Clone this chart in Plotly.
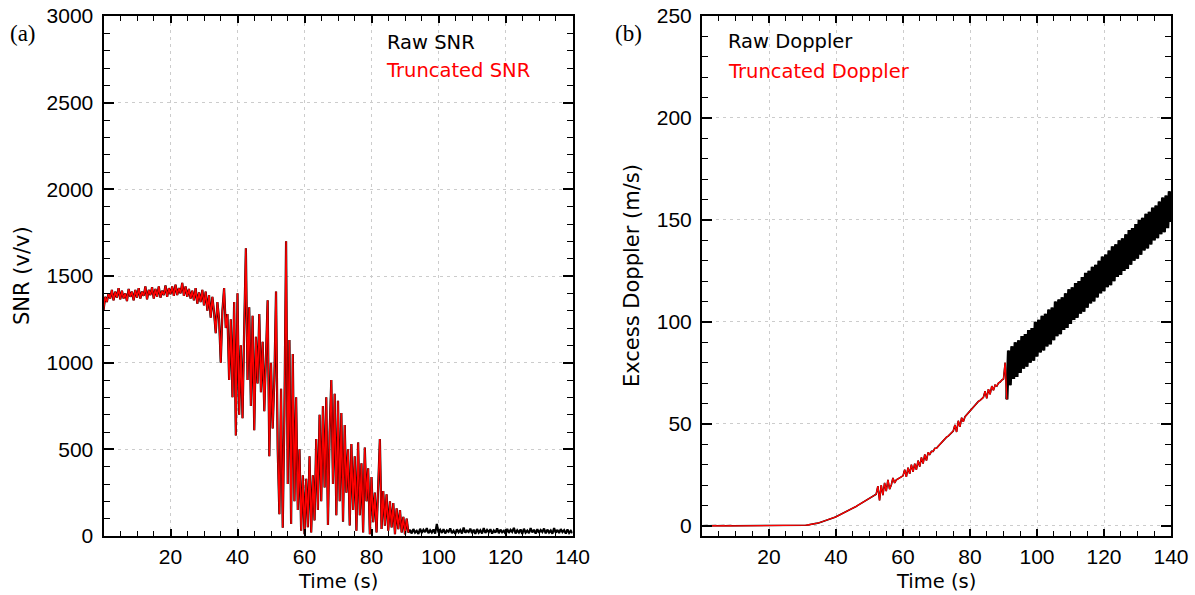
import numpy as np
import plotly.graph_objects as go

DT = 0.5  # sampling step of the values (s)

# ---- Panel (a): SNR (v/v), truncated part 0..91 s ----
snr_trunc = [
    1300, 1380, 1350, 1400, 1370, 1420, 1360, 1410, 1375, 1430,
    1365, 1415, 1370, 1400, 1355, 1425, 1380, 1410, 1360, 1420,
    1375, 1430, 1370, 1410, 1385, 1440, 1365, 1420, 1390, 1435,
    1370, 1425, 1380, 1440, 1375, 1415, 1390, 1445, 1380, 1430,
    1395, 1440, 1385, 1450, 1390, 1430, 1400, 1460, 1385, 1440,
    1380, 1425, 1370, 1415, 1360, 1430, 1340, 1405, 1350, 1420,
    1330, 1410, 1300, 1390, 1260, 1380, 1290, 1170, 1350, 1250,
    1000, 1300, 1430, 1200, 1280, 900, 1250, 800, 1350, 580,
    1400, 700, 1100, 680, 1200, 1660, 900, 1320, 750, 1270,
    610, 1150, 880, 1280, 830, 1120, 720, 1050, 1360, 460,
    1000, 620, 900, 1410, 500, 125, 850, 48, 700, 1700,
    300, 1130, 70, 1050, 200, 800, 150, 500, 30, 350,
    10, 330, 50, 460, 20, 350, 90, 560, 150, 700,
    200, 750, 280, 800, 63, 600, 900, 300, 820, 120,
    780, 200, 710, 83, 640, 250, 500, 60, 530, 150,
    460, 30, 540, 120, 420, 20, 510, 200, 390, 10,
    340, 80, 250, 20, 330, 560, 40, 260, 60, 240,
    30, 200, 50, 190, 10, 160, 40, 150, 20, 110, 10, 100, 20,
]
# raw SNR after truncation (91.5..140 s)
snr_raw_tail = [
    35, 15, 40, 20, 30, 12, 42, 18, 36, 22,
    45, 16, 33, 20, 38, 14, 70, 20, 35, 18,
    40, 15, 32, 24, 44, 17, 30, 13, 38, 21,
    34, 15, 48, 19, 31, 23, 42, 16, 36, 12,
    40, 20, 33, 15, 46, 18, 35, 22, 39, 14,
    32, 19, 44, 16, 37, 21, 30, 13, 41, 18,
    35, 24, 47, 15, 33, 20, 38, 12, 42, 19,
    31, 16, 45, 21, 36, 14, 40, 18, 34, 23,
    43, 15, 37, 20, 32, 13, 46, 19, 35, 17,
    40, 22, 33, 14, 38, 18, 30, 16,
]

# ---- Panel (b): Excess Doppler (m/s), truncated part 0..91 s ----
dop_trunc = [
    0.0, 0.1, 0.0, 0.1, 0.0, 0.1, 0.0, 0.0, 0.1, 0.0,
    0.1, 0.0, 0.0, 0.1, 0.0, 0.1, 0.0, 0.1, 0.0, 0.0,
    0.1, 0.0, 0.1, 0.0, 0.1, 0.0, 0.0, 0.1, 0.0, 0.1,
    0.0, 0.1, 0.0, 0.1, 0.0, 0.1, 0.1, 0.0, 0.1, 0.1,
    0.1, 0.0, 0.1, 0.1, 0.1, 0.0, 0.1, 0.1, 0.1, 0.1,
    0.1, 0.1, 0.1, 0.1, 0.2, 0.1, 0.2, 0.2, 0.2, 0.2,
    0.2, 0.25, 0.3, 0.4, 0.5, 0.6, 0.75, 0.9, 1.1, 1.3,
    1.5, 1.75, 2.0, 2.3, 2.6, 2.9, 3.2, 3.5, 3.8, 4.1,
    4.4, 4.8, 5.2, 5.6, 6.0, 6.4, 6.8, 7.3, 7.7, 8.1,
    8.6, 9.1, 9.5, 10.0, 10.5, 11.0, 11.5, 12.0, 12.5, 13.0,
    13.5, 14.0, 14.5, 15.0, 15.5,
    19.5, 12.5, 20, 15, 21, 17, 22.5, 18, 20, 23.5,
    21, 22.5, 23, 23.5, 24, 24.5, 27.5, 24, 28.5, 25.5,
    30, 26.5, 30.5, 27.5, 32, 29, 33.5, 30.5, 35, 32,
    36, 35, 36.5, 36.5, 38, 38, 39, 40, 40.5, 41.5,
    42.5, 43.5, 44, 45, 45.5, 46.5, 49.5, 46, 51.5, 48.5,
    53, 51, 53.5, 54.5, 55.5, 56.5, 57.5, 58.5, 59, 60,
    61, 61.5, 62.5, 63, 66, 62.5, 67, 64.5, 68.5, 66.5,
    69, 68.5, 70, 70.5, 71.5, 72, 80, 62,
]
# raw Doppler after truncation (91.5..140 s)
dop_raw_tail = [
    86, 69, 88, 72, 90, 73, 91, 75, 93, 77,
    94, 78, 96, 80, 97, 81, 100, 83, 101, 85,
    103, 86, 104, 88, 106, 89, 107, 91, 110, 93,
    111, 94, 112, 96, 114, 97, 116, 99, 117, 101,
    119, 102, 120, 104, 122, 105, 124, 107, 125, 109,
    127, 110, 128, 112, 130, 114, 132, 115, 133, 117,
    135, 118, 137, 120, 138, 122, 140, 123, 141, 125,
    143, 126, 145, 128, 146, 130, 148, 131, 150, 133,
    151, 135, 153, 136, 154, 138, 156, 140, 157, 141,
    159, 143, 161, 144, 162, 146, 164, 149,
]

x_ticks = [20, 40, 60, 80, 100, 120, 140]
snr_ticks = [0, 500, 1000, 1500, 2000, 2500, 3000]
dop_ticks = [0, 50, 100, 150, 200, 250]

# time axes (regular sampling)
t_trunc_snr = np.arange(len(snr_trunc)) * DT
t_tail_snr = t_trunc_snr[-1] + DT + np.arange(len(snr_raw_tail)) * DT
t_trunc_dop = np.arange(len(dop_trunc)) * DT
t_tail_dop = t_trunc_dop[-1] + DT + np.arange(len(dop_raw_tail)) * DT

snr_raw = snr_trunc + snr_raw_tail
dop_raw = dop_trunc + dop_raw_tail
t_raw_snr = np.concatenate([t_trunc_snr, t_tail_snr])
t_raw_dop = np.concatenate([t_trunc_dop, t_tail_dop])

W, H = 1195, 595
TICKFONT = "Liberation Sans"
TXTFONT = "DejaVu Sans"
fig = go.Figure()

fig.add_trace(go.Scatter(x=t_raw_snr, y=snr_raw, mode="lines",
                         line=dict(color="black", width=2.2), xaxis="x", yaxis="y"))
fig.add_trace(go.Scatter(x=t_trunc_snr, y=snr_trunc, mode="lines",
                         line=dict(color="#ff0000", width=1.5), xaxis="x", yaxis="y"))
fig.add_trace(go.Scatter(x=t_raw_dop, y=dop_raw, mode="lines",
                         line=dict(color="black", width=1.6), xaxis="x2", yaxis="y2"))
# after truncation only the raw series remains: a dense band
fig.add_trace(go.Scatter(x=np.concatenate([[t_trunc_dop[-1]], t_tail_dop]),
                         y=[dop_trunc[-1]] + dop_raw_tail, mode="lines",
                         line=dict(color="black", width=3.2), xaxis="x2", yaxis="y2"))
fig.add_trace(go.Scatter(x=t_trunc_dop, y=dop_trunc, mode="lines",
                         line=dict(color="#ff0000", width=1.3), xaxis="x2", yaxis="y2"))

def px(xp):
    return xp / W

def py(yp):
    return 1 - yp / H

y_dom = [py(536), py(16)]
grid_col = "#cccccc"

def xaxis(dom, anchor):
    return dict(domain=dom, anchor=anchor, range=[0, 140], tickmode="array",
                tickvals=x_ticks, ticks="inside", ticklen=7, tickwidth=1.5,
                tickcolor="black", showline=True, linewidth=2, linecolor="black",
                mirror="ticks", showgrid=True, gridcolor=grid_col, gridwidth=1,
                griddash="3px,4px", zeroline=False,
                tickfont=dict(family=TICKFONT, size=21, color="black"),
                ticklabelstandoff=1,
                minor=dict(tick0=0, dtick=5, ticks="inside", ticklen=5,
                           tickwidth=1.2, tickcolor="black", showgrid=False))

def yaxis(dom, anchor, rng, tv, mdt):
    return dict(domain=dom, anchor=anchor, range=rng, tickmode="array",
                tickvals=tv, ticks="inside", ticklen=10, tickwidth=1.5,
                tickcolor="black", showline=True, linewidth=2, linecolor="black",
                mirror="ticks", showgrid=True, gridcolor=grid_col, gridwidth=1,
                griddash="3px,4px", zeroline=False,
                tickfont=dict(family=TICKFONT, size=21, color="black"),
                ticklabelstandoff=4,
                minor=dict(tick0=0, dtick=mdt, ticks="inside", ticklen=6,
                           tickwidth=1.2, tickcolor="black", showgrid=False))

xa1 = [px(103.5), px(572.5)]
xa2 = [px(702), px(1171)]

annotations = []
def txt(text, x, y, size=19.5, color="black", angle=0, xanchor="center", family=TXTFONT):
    annotations.append(dict(text=text, x=px(x), y=py(y), xref="paper", yref="paper",
                            showarrow=False, textangle=angle, xanchor=xanchor,
                            yanchor="middle", borderpad=0,
                            font=dict(family=family, size=size, color=color)))

txt("Raw SNR", 386, 43, xanchor="left")
txt("Truncated SNR", 385, 70, color="#ff0000", xanchor="left")
txt("Raw Doppler", 727, 42, xanchor="left")
txt("Truncated Doppler", 727, 71, color="#ff0000", xanchor="left")
txt("Time (s)", 338, 581.5, size=19.5)
txt("Time (s)", 936.5, 581.5, size=19.5)
txt("SNR (v/v)", 22, 276, size=21, angle=-90)
txt("Excess Doppler (m/s)", 632, 276, size=21, angle=-90)
txt("(a)", 23, 33, size=23, family="Liberation Serif")
txt("(b)", 628, 33, size=23, family="Liberation Serif")

fig.update_layout(
    width=W, height=H, margin=dict(l=0, r=0, t=0, b=0, autoexpand=False),
    paper_bgcolor="white", plot_bgcolor="white", showlegend=False,
    xaxis=xaxis(xa1, "y"),
    yaxis=yaxis(y_dom, "x", [0, 3000], snr_ticks, 100),
    xaxis2=xaxis(xa2, "y2"),
    yaxis2=yaxis(y_dom, "x2", [-5, 250], dop_ticks, 10),
    annotations=annotations,
)

fig.write_html("out.html", config={"responsive": False, "displayModeBar": False},
               post_script="document.body.style.margin='0';document.body.style.overflow='hidden';")
